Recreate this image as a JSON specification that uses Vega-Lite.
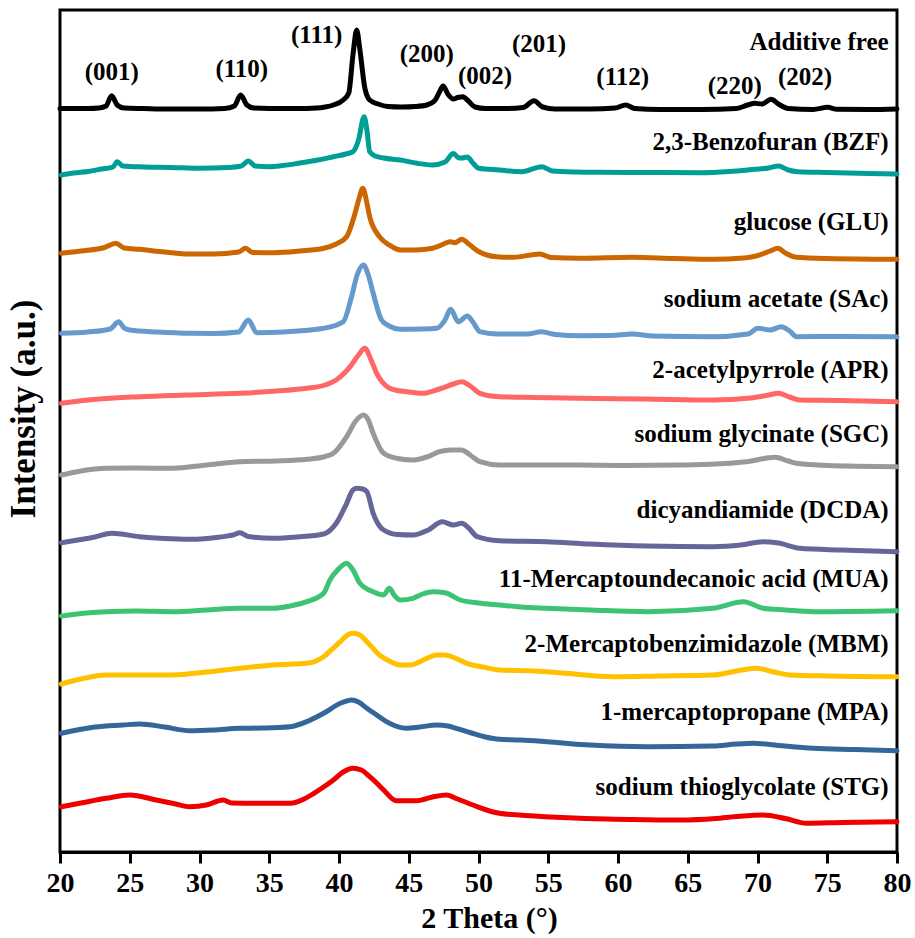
{
  "$schema": "https://vega.github.io/schema/vega-lite/v6.json",
  "width": 837,
  "height": 842,
  "autosize": {"type": "none"},
  "padding": {"left": 60, "top": 10, "right": 18, "bottom": 86},
  "background": "white",
  "title": {
    "text": "Intensity (a.u.)",
    "orient": "left",
    "anchor": "middle",
    "offset": 4,
    "dx": 22,
    "font": "Liberation Serif",
    "fontWeight": "bold",
    "fontSize": 35,
    "color": "black"
  },
  "config": {
    "font": "Liberation Serif",
    "view": {"stroke": "black", "strokeWidth": 3},
    "axis": {"grid": false}
  },
  "datasets": {
    "traces": [
      {"s":"AF","t":20.0,"i":743.5},{"s":"AF","t":21.0,"i":743.5},{"s":"AF","t":22.0,"i":743.5},{"s":"AF","t":22.8,"i":744},{"s":"AF","t":23.3,"i":746},{"s":"AF","t":23.7,"i":756.3},{"s":"AF","t":24.1,"i":747},{"s":"AF","t":24.6,"i":744},{"s":"AF","t":26,"i":743.5},{"s":"AF","t":28,"i":743},{"s":"AF","t":30,"i":743},{"s":"AF","t":31.8,"i":743.5},{"s":"AF","t":32.5,"i":746},{"s":"AF","t":32.95,"i":757},{"s":"AF","t":33.4,"i":747},{"s":"AF","t":33.9,"i":744},{"s":"AF","t":35,"i":743.5},{"s":"AF","t":37,"i":743.5},{"s":"AF","t":38.4,"i":744},{"s":"AF","t":39.0,"i":745},{"s":"AF","t":39.6,"i":747},{"s":"AF","t":40.3,"i":752},{"s":"AF","t":40.7,"i":759},{"s":"AF","t":41.0,"i":797},{"s":"AF","t":41.27,"i":822},{"s":"AF","t":41.5,"i":802},{"s":"AF","t":41.85,"i":764},{"s":"AF","t":42.2,"i":752},{"s":"AF","t":42.8,"i":748},{"s":"AF","t":43.5,"i":745.5},{"s":"AF","t":44.5,"i":745},{"s":"AF","t":45.5,"i":745.5},{"s":"AF","t":46.3,"i":747},{"s":"AF","t":46.9,"i":752},{"s":"AF","t":47.2,"i":760},{"s":"AF","t":47.46,"i":766},{"s":"AF","t":47.8,"i":758},{"s":"AF","t":48.2,"i":753},{"s":"AF","t":48.5,"i":754.5},{"s":"AF","t":48.9,"i":755.3},{"s":"AF","t":49.2,"i":752},{"s":"AF","t":49.75,"i":745},{"s":"AF","t":50.5,"i":743.5},{"s":"AF","t":52,"i":743.5},{"s":"AF","t":53.2,"i":744.5},{"s":"AF","t":53.98,"i":751.3},{"s":"AF","t":54.6,"i":745},{"s":"AF","t":55.5,"i":743},{"s":"AF","t":58,"i":743},{"s":"AF","t":59.8,"i":744},{"s":"AF","t":60.55,"i":747},{"s":"AF","t":61.2,"i":743.5},{"s":"AF","t":63,"i":742.5},{"s":"AF","t":66,"i":742.5},{"s":"AF","t":68.5,"i":743.5},{"s":"AF","t":69.3,"i":747},{"s":"AF","t":69.8,"i":748.7},{"s":"AF","t":70.3,"i":748},{"s":"AF","t":70.97,"i":752.7},{"s":"AF","t":71.5,"i":748},{"s":"AF","t":72.2,"i":743.5},{"s":"AF","t":74,"i":742.5},{"s":"AF","t":75.03,"i":744.7},{"s":"AF","t":75.7,"i":742.7},{"s":"AF","t":78,"i":742.5},{"s":"AF","t":80,"i":743},

      {"s":"BZF","t":20.1,"i":677},{"s":"BZF","t":21,"i":679},{"s":"BZF","t":22,"i":680.5},{"s":"BZF","t":23,"i":683},{"s":"BZF","t":23.8,"i":685},{"s":"BZF","t":24.1,"i":690.3},{"s":"BZF","t":24.5,"i":686},{"s":"BZF","t":26,"i":685},{"s":"BZF","t":28,"i":684.5},{"s":"BZF","t":30,"i":683.7},{"s":"BZF","t":32,"i":684.5},{"s":"BZF","t":33.0,"i":686},{"s":"BZF","t":33.5,"i":691},{"s":"BZF","t":34.0,"i":686},{"s":"BZF","t":35,"i":685.3},{"s":"BZF","t":36,"i":686.5},{"s":"BZF","t":37.2,"i":689},{"s":"BZF","t":38.5,"i":692},{"s":"BZF","t":39.6,"i":695.3},{"s":"BZF","t":40.5,"i":698},{"s":"BZF","t":41.0,"i":700.3},{"s":"BZF","t":41.4,"i":712},{"s":"BZF","t":41.8,"i":735.3},{"s":"BZF","t":42.0,"i":722},{"s":"BZF","t":42.2,"i":700.3},{"s":"BZF","t":42.6,"i":696},{"s":"BZF","t":43.2,"i":694},{"s":"BZF","t":44.4,"i":692},{"s":"BZF","t":45.6,"i":688.7},{"s":"BZF","t":46.7,"i":687},{"s":"BZF","t":47.6,"i":690},{"s":"BZF","t":48.2,"i":698.5},{"s":"BZF","t":48.6,"i":694},{"s":"BZF","t":48.8,"i":694},{"s":"BZF","t":49.2,"i":695},{"s":"BZF","t":49.6,"i":689},{"s":"BZF","t":50,"i":683.7},{"s":"BZF","t":51.5,"i":682},{"s":"BZF","t":53.1,"i":680.3},{"s":"BZF","t":54.55,"i":685.3},{"s":"BZF","t":55.3,"i":681},{"s":"BZF","t":57,"i":680},{"s":"BZF","t":58.7,"i":679.7},{"s":"BZF","t":62,"i":679.5},{"s":"BZF","t":65.9,"i":679.3},{"s":"BZF","t":68,"i":680.5},{"s":"BZF","t":69.8,"i":682.7},{"s":"BZF","t":70.8,"i":684},{"s":"BZF","t":71.5,"i":686},{"s":"BZF","t":72.2,"i":682},{"s":"BZF","t":72.9,"i":680.3},{"s":"BZF","t":75,"i":679.5},{"s":"BZF","t":78,"i":678.5},{"s":"BZF","t":80,"i":678},

      {"s":"GLU","t":20.1,"i":598.7},{"s":"GLU","t":21.5,"i":601},{"s":"GLU","t":23.2,"i":604.5},{"s":"GLU","t":24.0,"i":608.7},{"s":"GLU","t":24.6,"i":604},{"s":"GLU","t":25.7,"i":602.7},{"s":"GLU","t":27.5,"i":600},{"s":"GLU","t":29.3,"i":598},{"s":"GLU","t":31,"i":598},{"s":"GLU","t":32.8,"i":600},{"s":"GLU","t":33.3,"i":603.7},{"s":"GLU","t":33.8,"i":599.5},{"s":"GLU","t":35.3,"i":599.3},{"s":"GLU","t":37.2,"i":601},{"s":"GLU","t":38.9,"i":603.7},{"s":"GLU","t":39.8,"i":608},{"s":"GLU","t":40.55,"i":615.3},{"s":"GLU","t":41.15,"i":638.7},{"s":"GLU","t":41.45,"i":654},{"s":"GLU","t":41.7,"i":663.7},{"s":"GLU","t":42.0,"i":649},{"s":"GLU","t":42.2,"i":635.3},{"s":"GLU","t":42.9,"i":615.3},{"s":"GLU","t":43.6,"i":607},{"s":"GLU","t":44.4,"i":602},{"s":"GLU","t":45.5,"i":602},{"s":"GLU","t":46.7,"i":603.7},{"s":"GLU","t":47.5,"i":608},{"s":"GLU","t":47.96,"i":610.3},{"s":"GLU","t":48.3,"i":609.3},{"s":"GLU","t":48.8,"i":612.7},{"s":"GLU","t":49.3,"i":608},{"s":"GLU","t":49.9,"i":601.3},{"s":"GLU","t":50.6,"i":597},{"s":"GLU","t":51.3,"i":595.3},{"s":"GLU","t":52.5,"i":594.7},{"s":"GLU","t":54.4,"i":598},{"s":"GLU","t":55.2,"i":594.5},{"s":"GLU","t":57.3,"i":593.7},{"s":"GLU","t":61,"i":594.7},{"s":"GLU","t":64,"i":593.5},{"s":"GLU","t":66.8,"i":592.7},{"s":"GLU","t":69,"i":594},{"s":"GLU","t":69.9,"i":596},{"s":"GLU","t":70.9,"i":601},{"s":"GLU","t":71.45,"i":603.7},{"s":"GLU","t":72.0,"i":599},{"s":"GLU","t":72.8,"i":594.7},{"s":"GLU","t":75,"i":593.5},{"s":"GLU","t":80,"i":592.7},

      {"s":"SAc","t":20.1,"i":518.7},{"s":"SAc","t":22,"i":520},{"s":"SAc","t":23.6,"i":523},{"s":"SAc","t":24.2,"i":530.3},{"s":"SAc","t":24.6,"i":524},{"s":"SAc","t":25.0,"i":522},{"s":"SAc","t":27,"i":520},{"s":"SAc","t":29.3,"i":518.7},{"s":"SAc","t":31,"i":518.5},{"s":"SAc","t":32.8,"i":520},{"s":"SAc","t":33.5,"i":532},{"s":"SAc","t":34.1,"i":519.3},{"s":"SAc","t":36,"i":520},{"s":"SAc","t":38.9,"i":523.7},{"s":"SAc","t":40.3,"i":530.3},{"s":"SAc","t":40.9,"i":555.3},{"s":"SAc","t":41.3,"i":577},{"s":"SAc","t":41.75,"i":587},{"s":"SAc","t":42.1,"i":577},{"s":"SAc","t":42.45,"i":558.7},{"s":"SAc","t":43.05,"i":532},{"s":"SAc","t":43.6,"i":526},{"s":"SAc","t":44.4,"i":522.7},{"s":"SAc","t":46,"i":523},{"s":"SAc","t":47.0,"i":523.7},{"s":"SAc","t":47.6,"i":532},{"s":"SAc","t":48.0,"i":542.7},{"s":"SAc","t":48.55,"i":530.3},{"s":"SAc","t":49.2,"i":536},{"s":"SAc","t":49.6,"i":530},{"s":"SAc","t":50.1,"i":520.3},{"s":"SAc","t":51.3,"i":518},{"s":"SAc","t":53.5,"i":518},{"s":"SAc","t":54.5,"i":520.3},{"s":"SAc","t":55.5,"i":517.5},{"s":"SAc","t":57.3,"i":516.3},{"s":"SAc","t":59.5,"i":516.5},{"s":"SAc","t":61,"i":518},{"s":"SAc","t":62.5,"i":516},{"s":"SAc","t":66.8,"i":515.3},{"s":"SAc","t":69.3,"i":518},{"s":"SAc","t":70.05,"i":523.7},{"s":"SAc","t":70.9,"i":522},{"s":"SAc","t":71.7,"i":525.3},{"s":"SAc","t":72.3,"i":521},{"s":"SAc","t":72.8,"i":515.3},{"s":"SAc","t":76,"i":515.5},{"s":"SAc","t":80,"i":515.3},

      {"s":"APR","t":20.1,"i":448.7},{"s":"APR","t":22,"i":452},{"s":"APR","t":25.7,"i":455.3},{"s":"APR","t":29,"i":457},{"s":"APR","t":32.9,"i":458.7},{"s":"APR","t":35.5,"i":461},{"s":"APR","t":37.7,"i":463.7},{"s":"APR","t":39.0,"i":467},{"s":"APR","t":39.8,"i":472},{"s":"APR","t":40.8,"i":485.3},{"s":"APR","t":41.4,"i":497},{"s":"APR","t":41.85,"i":503.7},{"s":"APR","t":42.3,"i":492},{"s":"APR","t":42.7,"i":478.7},{"s":"APR","t":43.1,"i":470},{"s":"APR","t":43.65,"i":463.7},{"s":"APR","t":45,"i":460},{"s":"APR","t":46.0,"i":458.7},{"s":"APR","t":47.2,"i":463},{"s":"APR","t":48.2,"i":468},{"s":"APR","t":48.8,"i":470.3},{"s":"APR","t":49.4,"i":466},{"s":"APR","t":50.1,"i":458.7},{"s":"APR","t":51.5,"i":455.3},{"s":"APR","t":54,"i":454.5},{"s":"APR","t":57.3,"i":453.7},{"s":"APR","t":62,"i":453},{"s":"APR","t":66.8,"i":452},{"s":"APR","t":69.5,"i":454},{"s":"APR","t":70.8,"i":457},{"s":"APR","t":71.5,"i":458.7},{"s":"APR","t":72.3,"i":455},{"s":"APR","t":73,"i":452},{"s":"APR","t":76,"i":451.5},{"s":"APR","t":80,"i":450.3},

      {"s":"SGC","t":20.1,"i":377},{"s":"SGC","t":21.5,"i":381},{"s":"SGC","t":23.3,"i":383.7},{"s":"SGC","t":25.5,"i":384},{"s":"SGC","t":28.1,"i":383.7},{"s":"SGC","t":30.5,"i":387},{"s":"SGC","t":32.9,"i":390.3},{"s":"SGC","t":35.5,"i":391},{"s":"SGC","t":37.7,"i":392.7},{"s":"SGC","t":39.0,"i":395.5},{"s":"SGC","t":39.6,"i":398.7},{"s":"SGC","t":40.55,"i":415.3},{"s":"SGC","t":41.2,"i":431},{"s":"SGC","t":41.75,"i":437},{"s":"SGC","t":42.1,"i":432},{"s":"SGC","t":42.45,"i":418.7},{"s":"SGC","t":43.2,"i":398.7},{"s":"SGC","t":44.2,"i":393.5},{"s":"SGC","t":45.3,"i":392},{"s":"SGC","t":46.3,"i":395},{"s":"SGC","t":47.2,"i":400.3},{"s":"SGC","t":48.0,"i":402},{"s":"SGC","t":48.8,"i":402},{"s":"SGC","t":49.4,"i":397},{"s":"SGC","t":50.1,"i":390.3},{"s":"SGC","t":51.5,"i":387},{"s":"SGC","t":54,"i":387},{"s":"SGC","t":57.3,"i":387},{"s":"SGC","t":60.5,"i":386.5},{"s":"SGC","t":64.4,"i":387},{"s":"SGC","t":67,"i":388},{"s":"SGC","t":69.2,"i":390.3},{"s":"SGC","t":71.25,"i":394.7},{"s":"SGC","t":72.2,"i":391},{"s":"SGC","t":72.8,"i":388.7},{"s":"SGC","t":75,"i":386.5},{"s":"SGC","t":80,"i":385.3},

      {"s":"DCDA","t":20.1,"i":309.3},{"s":"DCDA","t":22.5,"i":315},{"s":"DCDA","t":23.7,"i":318.7},{"s":"DCDA","t":25.7,"i":315.3},{"s":"DCDA","t":27.5,"i":313.5},{"s":"DCDA","t":29.3,"i":312.7},{"s":"DCDA","t":31.5,"i":315},{"s":"DCDA","t":32.4,"i":317},{"s":"DCDA","t":32.9,"i":319.3},{"s":"DCDA","t":33.5,"i":315.5},{"s":"DCDA","t":35.3,"i":313.7},{"s":"DCDA","t":37,"i":315},{"s":"DCDA","t":38.9,"i":318},{"s":"DCDA","t":39.8,"i":328.7},{"s":"DCDA","t":40.55,"i":348.7},{"s":"DCDA","t":41.0,"i":362},{"s":"DCDA","t":41.3,"i":363.7},{"s":"DCDA","t":41.7,"i":363},{"s":"DCDA","t":42.0,"i":360.3},{"s":"DCDA","t":42.45,"i":338.7},{"s":"DCDA","t":43.2,"i":322},{"s":"DCDA","t":44.2,"i":317.5},{"s":"DCDA","t":45.3,"i":317},{"s":"DCDA","t":46.4,"i":322},{"s":"DCDA","t":47.4,"i":330.3},{"s":"DCDA","t":48.2,"i":327},{"s":"DCDA","t":48.8,"i":328.7},{"s":"DCDA","t":49.3,"i":324},{"s":"DCDA","t":49.9,"i":315.3},{"s":"DCDA","t":51.5,"i":311.3},{"s":"DCDA","t":54.9,"i":310.3},{"s":"DCDA","t":58,"i":308},{"s":"DCDA","t":62.1,"i":306},{"s":"DCDA","t":66.8,"i":305.3},{"s":"DCDA","t":68.8,"i":307},{"s":"DCDA","t":70.4,"i":310.3},{"s":"DCDA","t":71.5,"i":309},{"s":"DCDA","t":73.05,"i":303.7},{"s":"DCDA","t":76,"i":302},{"s":"DCDA","t":80,"i":300.3},

      {"s":"MUA","t":20.1,"i":236},{"s":"MUA","t":21.5,"i":238.5},{"s":"MUA","t":23.3,"i":240.3},{"s":"MUA","t":25.5,"i":241},{"s":"MUA","t":28.1,"i":240.3},{"s":"MUA","t":30.5,"i":242},{"s":"MUA","t":32.9,"i":243.7},{"s":"MUA","t":35.3,"i":243.7},{"s":"MUA","t":36.5,"i":246},{"s":"MUA","t":37.7,"i":250.3},{"s":"MUA","t":38.9,"i":258.7},{"s":"MUA","t":39.35,"i":272},{"s":"MUA","t":39.9,"i":282},{"s":"MUA","t":40.55,"i":288.7},{"s":"MUA","t":41.0,"i":282},{"s":"MUA","t":41.5,"i":268.7},{"s":"MUA","t":42.45,"i":260.3},{"s":"MUA","t":43.2,"i":257},{"s":"MUA","t":43.6,"i":263.7},{"s":"MUA","t":44.0,"i":256},{"s":"MUA","t":44.4,"i":252},{"s":"MUA","t":45.3,"i":253.7},{"s":"MUA","t":46.0,"i":258},{"s":"MUA","t":46.75,"i":260.3},{"s":"MUA","t":47.6,"i":259.3},{"s":"MUA","t":48.7,"i":252},{"s":"MUA","t":50,"i":249},{"s":"MUA","t":51.5,"i":247},{"s":"MUA","t":53,"i":245},{"s":"MUA","t":54.9,"i":243.7},{"s":"MUA","t":58,"i":242},{"s":"MUA","t":62.1,"i":240.3},{"s":"MUA","t":66.8,"i":243.7},{"s":"MUA","t":69.0,"i":250.3},{"s":"MUA","t":70.4,"i":243.7},{"s":"MUA","t":72,"i":242},{"s":"MUA","t":74,"i":240.3},{"s":"MUA","t":80,"i":241.3},

      {"s":"MBM","t":20.1,"i":168},{"s":"MBM","t":21.5,"i":173},{"s":"MBM","t":23.3,"i":177},{"s":"MBM","t":25.5,"i":177},{"s":"MBM","t":28.1,"i":177},{"s":"MBM","t":30.5,"i":180},{"s":"MBM","t":32.9,"i":183.7},{"s":"MBM","t":35.3,"i":187},{"s":"MBM","t":37.7,"i":188.7},{"s":"MBM","t":38.9,"i":195.3},{"s":"MBM","t":39.6,"i":204},{"s":"MBM","t":40.1,"i":210.3},{"s":"MBM","t":40.6,"i":217},{"s":"MBM","t":41.0,"i":218.7},{"s":"MBM","t":41.5,"i":217},{"s":"MBM","t":42.0,"i":210.3},{"s":"MBM","t":42.9,"i":197},{"s":"MBM","t":43.6,"i":191},{"s":"MBM","t":44.4,"i":187},{"s":"MBM","t":45.1,"i":187},{"s":"MBM","t":46.3,"i":193.7},{"s":"MBM","t":47.0,"i":197},{"s":"MBM","t":47.6,"i":197},{"s":"MBM","t":48.3,"i":194},{"s":"MBM","t":49.15,"i":188.7},{"s":"MBM","t":50.3,"i":185},{"s":"MBM","t":51.5,"i":182},{"s":"MBM","t":54,"i":181},{"s":"MBM","t":56,"i":179},{"s":"MBM","t":59.7,"i":175.3},{"s":"MBM","t":63,"i":176},{"s":"MBM","t":66.8,"i":177},{"s":"MBM","t":68.5,"i":181},{"s":"MBM","t":69.9,"i":183.7},{"s":"MBM","t":71.2,"i":180},{"s":"MBM","t":72.3,"i":177},{"s":"MBM","t":75,"i":176},{"s":"MBM","t":80,"i":175.3},

      {"s":"MPA","t":20.1,"i":118.7},{"s":"MPA","t":22.5,"i":125},{"s":"MPA","t":24.5,"i":127},{"s":"MPA","t":25.7,"i":128},{"s":"MPA","t":27.5,"i":125},{"s":"MPA","t":29.3,"i":121.3},{"s":"MPA","t":31,"i":122},{"s":"MPA","t":32.9,"i":123.7},{"s":"MPA","t":34.5,"i":124},{"s":"MPA","t":36.5,"i":125.3},{"s":"MPA","t":37.8,"i":131},{"s":"MPA","t":38.9,"i":138.7},{"s":"MPA","t":40.1,"i":148.7},{"s":"MPA","t":40.9,"i":152},{"s":"MPA","t":41.4,"i":150},{"s":"MPA","t":42.0,"i":143.7},{"s":"MPA","t":42.7,"i":137},{"s":"MPA","t":43.4,"i":130.3},{"s":"MPA","t":44.85,"i":123.7},{"s":"MPA","t":45.8,"i":125},{"s":"MPA","t":47.0,"i":127},{"s":"MPA","t":47.8,"i":126},{"s":"MPA","t":48.4,"i":123.7},{"s":"MPA","t":49.5,"i":119},{"s":"MPA","t":50.5,"i":115},{"s":"MPA","t":51.5,"i":112.7},{"s":"MPA","t":53,"i":112},{"s":"MPA","t":54.9,"i":110.3},{"s":"MPA","t":58,"i":107},{"s":"MPA","t":62.1,"i":105.3},{"s":"MPA","t":66.8,"i":106},{"s":"MPA","t":68.5,"i":108},{"s":"MPA","t":69.7,"i":108.7},{"s":"MPA","t":71.5,"i":106.5},{"s":"MPA","t":74,"i":103.7},{"s":"MPA","t":77,"i":102.5},{"s":"MPA","t":80,"i":101.3},

      {"s":"STG","t":20.1,"i":45.3},{"s":"STG","t":21.5,"i":49},{"s":"STG","t":23.3,"i":53.7},{"s":"STG","t":25.0,"i":57},{"s":"STG","t":26.9,"i":52},{"s":"STG","t":28.3,"i":48},{"s":"STG","t":29.3,"i":45.3},{"s":"STG","t":30.5,"i":47},{"s":"STG","t":31.7,"i":52},{"s":"STG","t":32.3,"i":49},{"s":"STG","t":34.1,"i":48.7},{"s":"STG","t":36.5,"i":48.7},{"s":"STG","t":37.5,"i":53},{"s":"STG","t":38.2,"i":58.7},{"s":"STG","t":39.0,"i":66},{"s":"STG","t":39.6,"i":72},{"s":"STG","t":40.3,"i":80},{"s":"STG","t":41.0,"i":83.7},{"s":"STG","t":41.6,"i":82},{"s":"STG","t":42.2,"i":75.3},{"s":"STG","t":42.7,"i":69},{"s":"STG","t":43.2,"i":62},{"s":"STG","t":44.1,"i":51.3},{"s":"STG","t":45.6,"i":51.3},{"s":"STG","t":46.7,"i":55},{"s":"STG","t":47.7,"i":57},{"s":"STG","t":48.5,"i":53},{"s":"STG","t":49.6,"i":47},{"s":"STG","t":51.5,"i":38.7},{"s":"STG","t":54,"i":36},{"s":"STG","t":57.3,"i":33.7},{"s":"STG","t":61,"i":32.5},{"s":"STG","t":64.4,"i":32},{"s":"STG","t":67,"i":33.5},{"s":"STG","t":68.5,"i":35.5},{"s":"STG","t":70.4,"i":37},{"s":"STG","t":72,"i":33.5},{"s":"STG","t":73.5,"i":28.7},{"s":"STG","t":76,"i":29.5},{"s":"STG","t":80,"i":30.3}
    ],
    "names": [
      {"label":"Additive free","t":79.4,"i":802},
      {"label":"2,3-Benzofuran (BZF)","t":79.4,"i":702},
      {"label":"glucose (GLU)","t":79.4,"i":622},
      {"label":"sodium acetate (SAc)","t":79.4,"i":545.3},
      {"label":"2-acetylpyrrole (APR)","t":79.4,"i":474},
      {"label":"sodium glycinate (SGC)","t":79.4,"i":410.3},
      {"label":"dicyandiamide (DCDA)","t":79.4,"i":334},
      {"label":"11-Mercaptoundecanoic acid (MUA)","t":79.4,"i":265.3},
      {"label":"2-Mercaptobenzimidazole (MBM)","t":79.4,"i":200.3},
      {"label":"1-mercaptopropane (MPA)","t":79.4,"i":132},
      {"label":"sodium thioglycolate (STG)","t":79.4,"i":57}
    ],
    "planes": [
      {"hkl":"(001)","t":23.71,"i":772},
      {"hkl":"(110)","t":33.03,"i":775},
      {"hkl":"(111)","t":38.4,"i":809},
      {"hkl":"(200)","t":46.29,"i":790},
      {"hkl":"(002)","t":50.47,"i":768},
      {"hkl":"(201)","t":54.34,"i":800},
      {"hkl":"(112)","t":60.34,"i":767},
      {"hkl":"(220)","t":68.37,"i":758},
      {"hkl":"(202)","t":73.41,"i":767}
    ]
  },
  "layer": [
    {
      "data": {"name": "traces"},
      "mark": {"type": "line", "strokeWidth": 5, "strokeJoin": "round", "strokeCap": "round", "interpolate": "monotone"},
      "encoding": {
        "x": {
          "field": "t", "type": "quantitative",
          "scale": {"domain": [20, 80], "nice": false, "zero": false},
          "axis": {
            "orient": "bottom",
            "values": [20, 22.5, 25, 27.5, 30, 32.5, 35, 37.5, 40, 42.5, 45, 47.5, 50, 52.5, 55, 57.5, 60, 62.5, 65, 67.5, 70, 72.5, 75, 77.5, 80],
            "labelExpr": "datum.value % 5 === 0 ? datum.label : ''",
            "title": "2 Theta (°)",
            "domain": true, "domainColor": "black", "domainWidth": 3,
            "ticks": true, "tickColor": "black", "tickWidth": 3,
            "tickSize": {"condition": {"test": "datum.value % 5 !== 0", "value": 5}, "value": 11},
            "labelFont": "Liberation Serif", "labelFontWeight": "bold", "labelFontSize": 28,
            "labelColor": "black", "labelPadding": 6, "labelFlush": false, "labelOverlap": false,
            "titleFont": "Liberation Serif", "titleFontWeight": "bold", "titleFontSize": 30,
            "titleColor": "black", "titleBaseline": "alphabetic", "titleX": 429, "titleY": 75,
            "titleAlign": "center"
          }
        },
        "y": {
          "field": "i", "type": "quantitative",
          "scale": {"domain": [0, 842], "nice": false, "zero": false},
          "axis": null
        },
        "color": {
          "field": "s", "type": "nominal", "legend": null,
          "scale": {
            "domain": ["AF", "BZF", "GLU", "SAc", "APR", "SGC", "DCDA", "MUA", "MBM", "MPA", "STG"],
            "range": ["#000000", "#009E96", "#CC6600", "#6699CC", "#FF6666", "#999999", "#666699", "#3DC374", "#FFC000", "#336699", "#EE0000"]
          }
        }
      }
    },
    {
      "data": {"name": "names"},
      "mark": {"type": "text", "align": "right", "baseline": "alphabetic", "font": "Liberation Serif", "fontWeight": "bold", "fontSize": 25, "color": "black"},
      "encoding": {
        "x": {"field": "t", "type": "quantitative", "scale": {"domain": [20, 80], "nice": false, "zero": false}},
        "y": {"field": "i", "type": "quantitative", "scale": {"domain": [0, 842], "nice": false, "zero": false}, "axis": null},
        "text": {"field": "label"}
      }
    },
    {
      "data": {"name": "planes"},
      "mark": {"type": "text", "align": "center", "baseline": "alphabetic", "font": "Liberation Serif", "fontWeight": "bold", "fontSize": 25, "color": "black"},
      "encoding": {
        "x": {"field": "t", "type": "quantitative", "scale": {"domain": [20, 80], "nice": false, "zero": false}},
        "y": {"field": "i", "type": "quantitative", "scale": {"domain": [0, 842], "nice": false, "zero": false}, "axis": null},
        "text": {"field": "hkl"}
      }
    }
  ]
}
